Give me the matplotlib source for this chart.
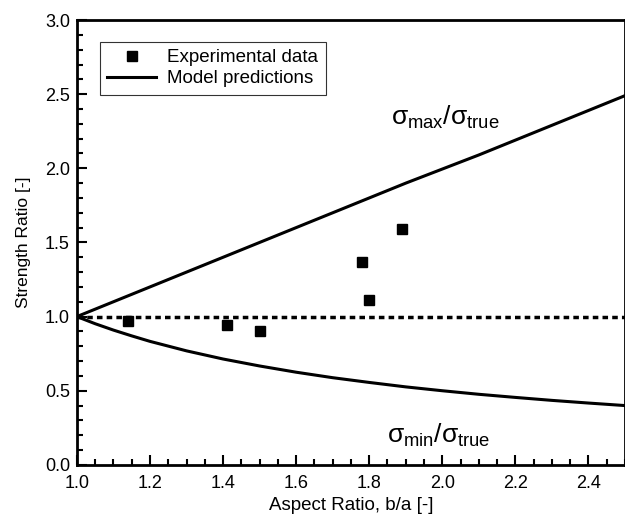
import matplotlib
matplotlib.use("Agg")
import matplotlib.pyplot as plt
from matplotlib.ticker import MultipleLocator

plt.rcParams['font.family'] = ['Liberation Sans', 'DejaVu Sans']
plt.rcParams['mathtext.fontset'] = 'custom'
plt.rcParams['mathtext.rm'] = 'Liberation Sans'
plt.rcParams['mathtext.it'] = 'Liberation Sans'

# Data
exp_x = [1.14, 1.41, 1.50, 1.78, 1.80, 1.89]
exp_y = [0.97, 0.94, 0.90, 1.37, 1.11, 1.59]

model_x = [1.0, 1.05, 1.1, 1.15, 1.2, 1.3, 1.4, 1.5, 1.6, 1.7, 1.8, 1.9, 2.0, 2.1, 2.2, 2.3, 2.4, 2.5]
upper_y = [1.0, 1.05, 1.1, 1.15, 1.2, 1.3, 1.4, 1.5, 1.6, 1.7, 1.8, 1.9, 1.995, 2.09, 2.19, 2.29, 2.39, 2.49]
lower_y = [1.0, 0.952, 0.909, 0.870, 0.833, 0.769, 0.714, 0.667, 0.625, 0.588, 0.556, 0.526, 0.50, 0.476, 0.455, 0.435, 0.417, 0.40]

ref_x = [1.0, 2.5]
ref_y = [1.0, 1.0]

fig = plt.figure(figsize=(6.25, 5.2), dpi=100)
ax = fig.add_axes([0.123, 0.106, 0.877, 0.8555])

ax.plot(ref_x, ref_y, color='black', lw=2.5, ls=(0, (1.6, 1.2)), zorder=2)
ax.plot(model_x, upper_y, color='black', lw=2.2, label='Model predictions', zorder=3)
ax.plot(model_x, lower_y, color='black', lw=2.2, zorder=3)
ax.plot(exp_x, exp_y, ls='none', marker='s', ms=7, color='black', label='Experimental data', zorder=4)

ax.set_xlim(1.0, 2.5)
ax.set_ylim(0.0, 3.0)
ax.xaxis.set_major_locator(MultipleLocator(0.2))
ax.xaxis.set_minor_locator(MultipleLocator(0.05))
ax.yaxis.set_major_locator(MultipleLocator(0.5))
ax.yaxis.set_minor_locator(MultipleLocator(0.1))
ax.tick_params(which='both', direction='in', top=False, right=False, labelsize=13, width=1.5)
ax.tick_params(which='major', length=7)
ax.tick_params(which='minor', length=4)
ax.tick_params(axis='x', which='major', pad=7)
ax.tick_params(axis='y', which='major', pad=5)
for s in ax.spines.values():
    s.set_linewidth(2)

ax.set_xlabel('Aspect Ratio, b/a [-]', fontsize=13.5, labelpad=4)
ax.set_ylabel('Strength Ratio [-]', fontsize=12.5, labelpad=10)

ax.text(1.86, 2.34, r'$\sigma_{\mathrm{max}}/\sigma_{\mathrm{true}}$', fontsize=19, ha='left', va='center')
ax.text(1.85, 0.20, r'$\sigma_{\mathrm{min}}/\sigma_{\mathrm{true}}$', fontsize=19, ha='left', va='center')

handles, labels = ax.get_legend_handles_labels()
leg = ax.legend(handles[::-1], labels[::-1], loc='upper left', bbox_to_anchor=(0.025, 0.972),
                fontsize=13.5, frameon=True, fancybox=False, edgecolor='black',
                handlelength=2.6, handletextpad=0.6, borderpad=0.4, labelspacing=0.2)
leg.get_frame().set_linewidth(0.8)

fig.savefig('out.png', dpi=100)
